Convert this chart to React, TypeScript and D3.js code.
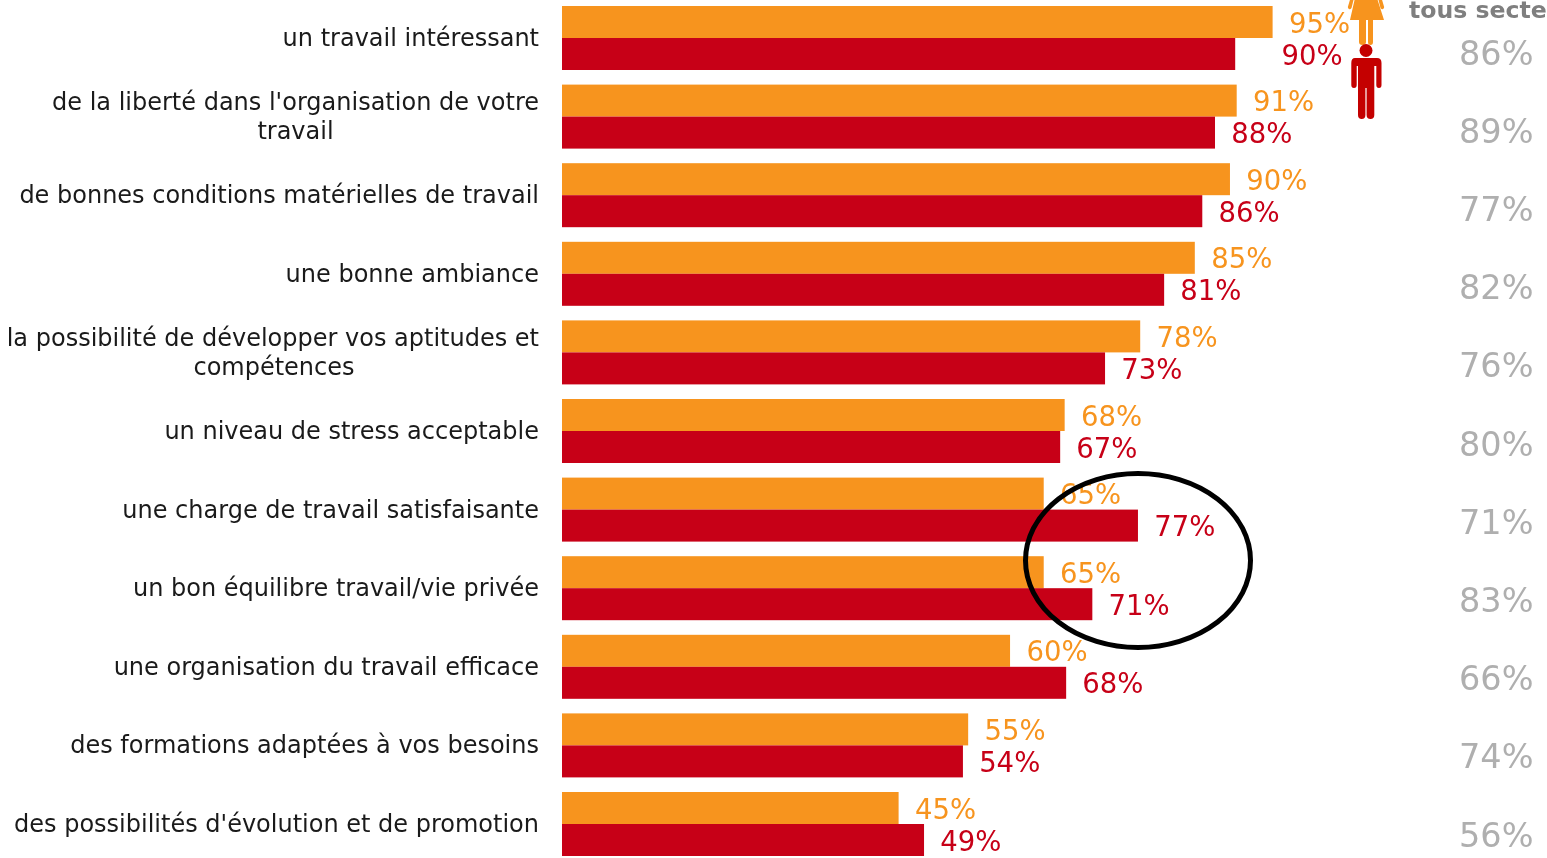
import React from "react";
import * as d3 from "d3";

const categories = [
  ["un travail intéressant"],
  ["de la liberté dans l'organisation de votre", "travail"],
  ["de bonnes conditions matérielles de travail"],
  ["une bonne ambiance"],
  ["la possibilité de développer vos aptitudes et", "compétences"],
  ["un niveau de stress acceptable"],
  ["une charge de travail satisfaisante"],
  ["un bon équilibre travail/vie privée"],
  ["une organisation du travail efficace"],
  ["des formations adaptées à vos besoins"],
  ["des possibilités d'évolution et de promotion"],
];
const womenBars = [95, 90.2, 89.3, 84.6, 77.3, 67.2, 64.4, 64.4, 59.9, 54.3, 45];
const menBars = [90, 87.3, 85.6, 80.5, 72.6, 66.6, 77, 70.9, 67.4, 53.6, 48.4];
const womenLabels = [95, 91, 90, 85, 78, 68, 65, 65, 60, 55, 45];
const menLabels = [90, 88, 86, 81, 73, 67, 77, 71, 68, 54, 49];
const allSectors = [86, 89, 77, 82, 76, 80, 71, 83, 66, 74, 56];

const ORANGE = "#F7941E";
const RED = "#C70017";
const FONT = "Verdana, 'DejaVu Sans', sans-serif";

export default function App() {
  const x = d3.scaleLinear().domain([0, 100]).range([562, 1310]);
  const y = d3.scaleBand<number>().domain(d3.range(categories.length)).range([6, 870.6]);
  const yGray = d3.scaleBand<number>().domain(d3.range(categories.length)).range([64.5, 924.7]);
  const barH = 32;
  return (
    <svg width={1547} height={858} style={{ position: "fixed", left: 0, top: 0, display: "block" }} fontFamily={FONT}>
      {categories.map((lines, i) => {
        const top = y(i)!;
        const mid = top + barH;
        const menLabelDx = i === 0 ? 46 : 16;
        return (
          <g key={i}>
            <rect x={x(0)} y={top} width={x(womenBars[i]) - x(0)} height={barH} fill={ORANGE} />
            <rect x={x(0)} y={top + barH} width={x(menBars[i]) - x(0)} height={barH} fill={RED} />
            <text x={x(womenBars[i]) + 16.4} y={top + 26.6} fontSize={27.5} fill={ORANGE}>{womenLabels[i]}%</text>
            <text x={x(menBars[i]) + menLabelDx + 0.2} y={top + 58.5} fontSize={27.5} fill={RED}>{menLabels[i]}%</text>
            <text x={1533.5} y={yGray(i)!} fontSize={33.5} fill="#AFAFAF" textAnchor="end">{allSectors[i]}%</text>
            {lines.map((l, j) => (
              <text
                key={j}
                x={j === 0 ? 539 : i === 1 ? 295.5 : 274}
                y={mid + 8 + (j - (lines.length - 1) / 2) * 29.5}
                fontSize={24}
                fill="#1a1a1a"
                textAnchor={j === 0 ? "end" : "middle"}
              >
                {l}
              </text>
            ))}
          </g>
        );
      })}
      {/* woman icon */}
      <g fill={ORANGE}>
        <path d="M1355 -2 L1377 -2 L1384 20 L1373 20 L1373 42 Q1373 45 1370.5 45 Q1368 45 1368 42 L1368 20 L1366 20 L1366 42 Q1366 45 1362.5 45 Q1359 45 1359 42 L1359 20 L1350 20 Z" />
        <path d="M1350.5 -2 L1354 -2 L1351.5 8 Q1350 10 1349 9 Q1347.5 8 1348 6.5 Z" />
        <path d="M1378 -2 L1381.5 -2 L1384 6.5 Q1384.5 8 1383 9 Q1382 10 1380.5 8 Z" />
      </g>
      {/* man icon */}
      <g fill="#C40000">
        <circle cx={1366} cy={50.5} r={6.5} />
        <path d="M1355 58 L1377 58 Q1381.5 58 1381.5 63 L1381.5 85 Q1381.5 88 1379 88 Q1376.3 88 1376.3 85 L1376.3 66 L1374.3 66 L1374.3 115 Q1374.3 119 1370.5 119 Q1366.6 119 1366.6 115 L1366.6 88 L1365.4 88 L1365.4 115 Q1365.4 119 1361.7 119 Q1358 119 1358 115 L1358 66 L1356.7 66 L1356.7 85 Q1356.7 88 1354 88 Q1351.3 88 1351.3 85 L1351.3 63 Q1351.3 58 1355 58 Z" />
      </g>
      <text x={1409} y={18} fontSize={23.6} fontWeight="bold" fill="#7F7F7F">tous secte</text>
      <ellipse cx={1138} cy={560.5} rx={112.5} ry={87} fill="none" stroke="#000" strokeWidth={5} />
    </svg>
  );
}
